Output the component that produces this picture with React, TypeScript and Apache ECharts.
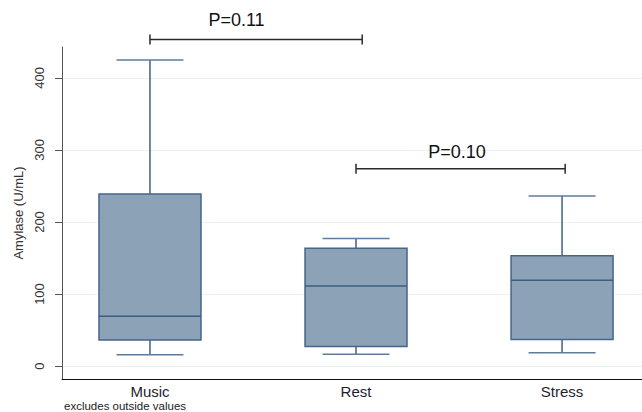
import React, { useEffect, useRef } from "react";
import * as echarts from "echarts";

const categories = ["Music", "Rest", "Stress"];
const positions = [1, 2, 3];
const whiskerLow = [15.5, 16.5, 18.5];
const q1 = [36, 27, 37];
const median = [69, 111, 119];
const q3 = [239, 163.5, 153];
const whiskerHigh = [425, 177, 236];

const yTicks = [0, 100, 200, 300, 400];

const bracketStart = [1.0, 2.0];
const bracketEnd = [2.03, 3.015];
const bracketY = [453.5, 274];
const pLabels = ["P=0.11", "P=0.10"];
const pLabelX = [1.42, 2.49];
const pLabelY = [480, 297];

const FONT = "Liberation Sans, Arial, sans-serif";

export default function App() {
  const ref = useRef<HTMLDivElement>(null);
  useEffect(() => {
    document.body.style.margin = "0";
    const chart = echarts.init(ref.current!, null, { renderer: "svg" });
    const boxData = positions.map((p, i) => [p, whiskerLow[i], q1[i], median[i], q3[i], whiskerHigh[i]]);
    const bracketData = bracketStart.map((s, i) => [s, bracketEnd[i], bracketY[i], pLabelX[i], pLabelY[i]]);
    const boxW = 0.495;
    const capW = 0.325;
    const boxStroke = "#3f6089";
    chart.setOption({
      animation: false,
      backgroundColor: "#ffffff",
      grid: { left: 62, right: 0, top: 47, bottom: 33 },
      xAxis: {
        type: "value",
        min: 0.573,
        max: 3.388,
        axisLine: { show: true, onZero: false, lineStyle: { color: "#111", width: 1 } },
        axisTick: { show: false },
        splitLine: { show: false },
        axisLabel: {
          customValues: positions,
          formatter: (v: number) => categories[Math.round(v) - 1] ?? "",
          fontFamily: FONT,
          fontSize: 15,
          color: "#1e1e2e",
          margin: 5,
        },
      },
      yAxis: {
        type: "value",
        min: -18,
        max: 443,
        name: "Amylase (U/mL)",
        nameLocation: "middle",
        nameGap: 35,
        nameRotate: 90,
        nameTextStyle: { fontFamily: FONT, fontSize: 13, color: "#333" },
        axisLine: { show: true, lineStyle: { color: "#555", width: 1 } },
        axisTick: { show: true, length: 7, customValues: yTicks, lineStyle: { color: "#555" } },
        axisLabel: {
          customValues: yTicks,
          rotate: 90,
          margin: 16,
          fontFamily: FONT,
          fontSize: 13,
          color: "#333",
        },
        splitLine: { show: true, lineStyle: { color: "#e9f1f3", width: 1 } },
      },
      graphic: [
        {
          type: "text",
          left: 64,
          top: 400,
          style: { text: "excludes outside values", font: `11.5px ${FONT}`, fill: "#222" },
        },
      ],
      series: [
        {
          type: "custom",
          clip: false,
          data: boxData,
          encode: { x: 0, y: [1, 2, 3, 4, 5] },
          renderItem: (params: any, api: any) => {
            const x = api.value(0);
            const lo = api.value(1);
            const a = api.value(2);
            const m = api.value(3);
            const b = api.value(4);
            const hi = api.value(5);
            const tl = api.coord([x - boxW / 2, b]);
            const br = api.coord([x + boxW / 2, a]);
            const mL = api.coord([x - boxW / 2, m]);
            const mR = api.coord([x + boxW / 2, m]);
            const top = api.coord([x, hi]);
            const bTop = api.coord([x, b]);
            const bBot = api.coord([x, a]);
            const bot = api.coord([x, lo]);
            const cL = api.coord([x - capW / 2, hi]);
            const cR = api.coord([x + capW / 2, hi]);
            const lL = api.coord([x - capW / 2, lo]);
            const lR = api.coord([x + capW / 2, lo]);
            const ls = { stroke: boxStroke, lineWidth: 1.5 };
            return {
              type: "group",
              children: [
                { type: "line", shape: { x1: top[0], y1: top[1], x2: bTop[0], y2: bTop[1] }, style: ls },
                { type: "line", shape: { x1: bBot[0], y1: bBot[1], x2: bot[0], y2: bot[1] }, style: ls },
                { type: "line", shape: { x1: cL[0], y1: cL[1], x2: cR[0], y2: cR[1] }, style: { stroke: "#5d7c9c", lineWidth: 1.5 } },
                { type: "line", shape: { x1: lL[0], y1: lL[1], x2: lR[0], y2: lR[1] }, style: { stroke: "#5d7c9c", lineWidth: 1.5 } },
                {
                  type: "rect",
                  shape: { x: tl[0], y: tl[1], width: br[0] - tl[0], height: br[1] - tl[1] },
                  style: { fill: "#8ca2b7", stroke: "#46658a", lineWidth: 1.5 },
                },
                { type: "line", shape: { x1: mL[0], y1: mL[1], x2: mR[0], y2: mR[1] }, style: { stroke: "#3d5d82", lineWidth: 1.5 } },
              ],
            };
          },
        },
        {
          type: "custom",
          clip: false,
          data: bracketData,
          encode: { x: [0, 1, 3], y: [2, 4] },
          renderItem: (params: any, api: any) => {
            const s = api.coord([api.value(0), api.value(2)]);
            const e = api.coord([api.value(1), api.value(2)]);
            const t = api.coord([api.value(3), api.value(4)]);
            const ls = { stroke: "#2a2a2a", lineWidth: 1.5 };
            return {
              type: "group",
              children: [
                { type: "line", shape: { x1: s[0], y1: s[1], x2: e[0], y2: e[1] }, style: ls },
                { type: "line", shape: { x1: s[0], y1: s[1] - 5, x2: s[0], y2: s[1] + 5 }, style: ls },
                { type: "line", shape: { x1: e[0], y1: e[1] - 5, x2: e[0], y2: e[1] + 5 }, style: ls },
                {
                  type: "text",
                  x: t[0],
                  y: t[1],
                  style: {
                    text: pLabels[params.dataIndex],
                    font: `18px ${FONT}`,
                    fill: "#111",
                    align: "center",
                    verticalAlign: "middle",
                  },
                },
              ],
            };
          },
        },
      ],
    });
    return () => chart.dispose();
  }, []);
  return <div ref={ref} style={{ width: 642, height: 412 }} />;
}
